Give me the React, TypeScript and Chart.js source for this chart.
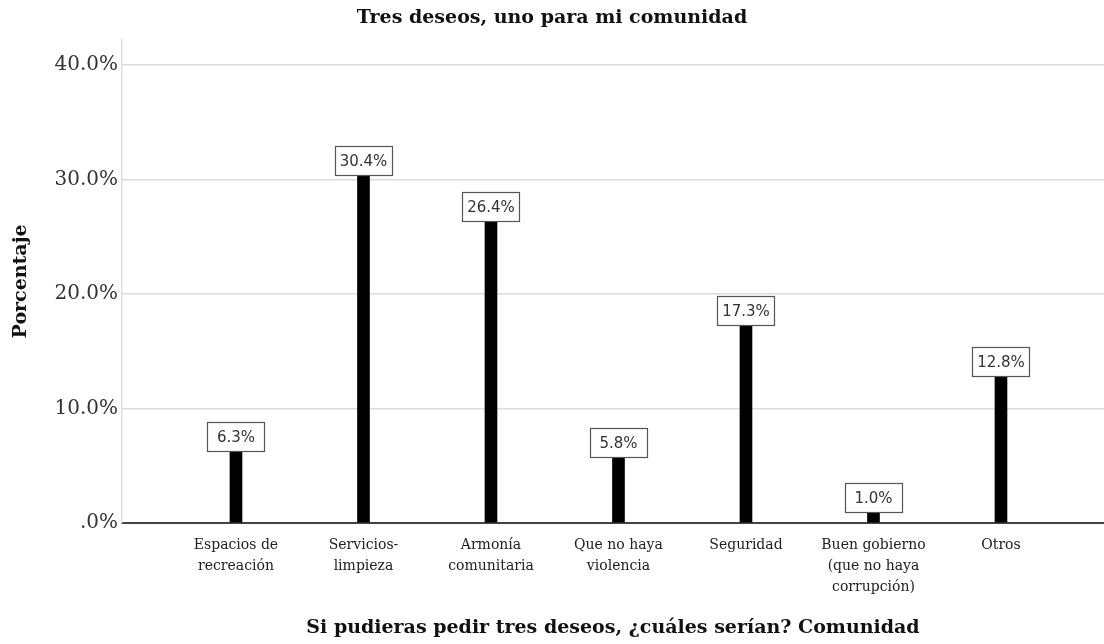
import React, { useEffect, useRef } from "react";
import { Chart, registerables } from "chart.js";

Chart.register(...registerables);

const chartTitle = "Tres deseos, uno para mi comunidad";
const xAxisTitle = "Si pudieras pedir tres deseos, ¿cuáles serían? Comunidad";
const yAxisTitle = "Porcentaje";

const categories: string[][] = [
  ["Espacios de", "recreación"],
  ["Servicios-", "limpieza"],
  ["Armonía", "comunitaria"],
  ["Que no haya", "violencia"],
  ["Seguridad"],
  ["Buen gobierno", "(que no haya", "corrupción)"],
  ["Otros"],
];

const percentages: number[] = [6.3, 30.4, 26.4, 5.8, 17.3, 1.0, 12.8];

const yTicks: number[] = [0, 10, 20, 30, 40];

const formatPct = (v: number) => (v === 0 ? ".0%" : v.toFixed(1) + "%");

const labelBoxPlugin = {
  id: "labelBoxes",
  afterDatasetsDraw(chart: any) {
    const ctx = chart.ctx;
    const meta = chart.getDatasetMeta(0);
    ctx.save();
    meta.data.forEach((bar: any, i: number) => {
      const w = 57;
      const h = 29;
      const x = Math.round(bar.x - w / 2) + 0.5;
      const y = Math.round(bar.y - h) + 0.5;
      ctx.fillStyle = "#ffffff";
      ctx.fillRect(x, y, w, h);
      ctx.strokeStyle = "#555555";
      ctx.lineWidth = 1.2;
      ctx.strokeRect(x, y, w, h);
      ctx.fillStyle = "#333333";
      ctx.font = "15px 'DejaVu Sans'";
      ctx.textAlign = "center";
      ctx.textBaseline = "middle";
      ctx.fillText(formatPct(percentages[i]), bar.x, y + h / 2 + 1);
    });
    ctx.restore();
  },
};

export default function App() {
  const ref = useRef<HTMLCanvasElement | null>(null);

  useEffect(() => {
    if (!ref.current) return;
    const chart = new Chart(ref.current, {
      type: "bar",
      data: {
        datasets: [
          {
            data: percentages.map((v, i) => ({ x: i, y: v })),
            backgroundColor: "#000000",
            borderWidth: 0,
            barThickness: 12,
          },
        ],
      },
      options: {
        animation: false,
        responsive: false,
        layout: { padding: 0 },
        plugins: {
          legend: { display: false },
          tooltip: { enabled: false },
          title: {
            display: true,
            text: chartTitle,
            color: "#111111",
            font: { family: "'DejaVu Serif'", size: 19, weight: "bold" },
            padding: { top: 7, bottom: 10 },
          },
        },
        scales: {
          x: {
            type: "linear",
            offset: false,
            min: -0.894,
            max: 6.808,
            afterBuildTicks: (scale: any) => {
              scale.ticks = categories.map((_, i) => ({ value: i }));
            },
            afterFit: (scale: any) => {
              scale.height = 121;
            },
            grid: { display: false, drawTicks: false, offset: false },
            border: { display: true, color: "#444444", width: 2 },
            ticks: {
              autoSkip: false,
              maxRotation: 0,
              minRotation: 0,
              padding: 12,
              color: "#222222",
              font: { family: "'DejaVu Serif'", size: 14, lineHeight: "21px" },
              callback: (v: any) => {
                const n = Number(v);
                return Number.isInteger(n) && categories[n] ? categories[n] : "";
              },
            },
            title: {
              display: true,
              text: xAxisTitle,
              color: "#111111",
              font: { family: "'DejaVu Serif'", size: 19, weight: "bold" },
              padding: { top: 0, bottom: 5 },
            },
          },
          y: {
            min: 0,
            max: 42.2,
            afterBuildTicks: (scale: any) => {
              scale.ticks = yTicks.map((v) => ({ value: v }));
            },
            afterFit: (scale: any) => {
              scale.width = 122;
            },
            grid: {
              drawTicks: false,
              color: (c: any) => (c.tick && c.tick.value === 0 ? "rgba(0,0,0,0)" : "#dcdcdc"),
              lineWidth: 1.5,
            },
            border: { display: true, color: "#dcdcdc", width: 1.5 },
            ticks: {
              padding: 4,
              color: "#333333",
              font: { family: "'DejaVu Serif'", size: 20 },
              callback: (v: any) => formatPct(Number(v)),
            },
            title: {
              display: true,
              text: yAxisTitle,
              color: "#111111",
              font: { family: "'DejaVu Serif'", size: 19, weight: "bold" },
              padding: { top: 10, bottom: 0 },
            },
          },
        },
      },
      plugins: [labelBoxPlugin],
    } as any);
    return () => chart.destroy();
  }, []);

  return (
    <div style={{ position: "fixed", left: 0, top: 0, width: 1104, height: 644, background: "#ffffff" }}>
      <canvas ref={ref} width={1104} height={644} />
    </div>
  );
}
